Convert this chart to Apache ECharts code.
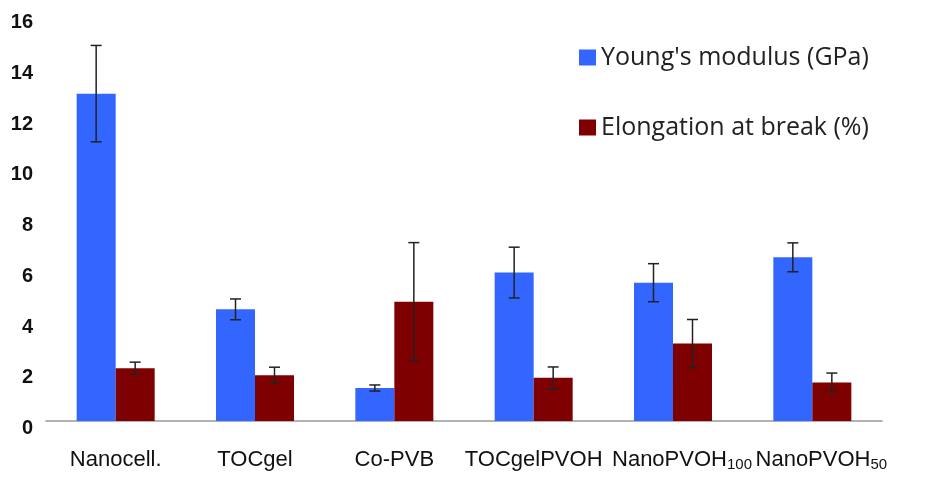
<!DOCTYPE html>
<html>
<head>
<meta charset="utf-8">
<script src="https://cdn.jsdelivr.net/npm/echarts@6/dist/echarts.min.js"></script>
<style>
  html, body { margin: 0; padding: 0; background: #fff; }
  #chart { width: 948px; height: 485px; }
</style>
</head>
<body>
<div id="chart"></div>
<script>
// values
const categories = ['Nanocell.', 'TOCgel', 'Co-PVB', 'TOCgelPVOH', 'NanoPVOH100', 'NanoPVOH50']
const modulus = [12.9, 4.4, 1.3, 5.85, 5.45, 6.45]
const modulusErr = [1.9, 0.41, 0.12, 1.0, 0.75, 0.57]
const elongation = [2.08, 1.8, 4.7, 1.7, 3.05, 1.52]
const elongationErr = [0.24, 0.32, 2.33, 0.43, 0.95, 0.37]
const yTicks = { min: 0, max: 16, interval: 2 }

const BLUE = '#3366ff'
const RED = '#7f0000'
const BAR_W = 39

function errorSeries(values, errs, shift) {
  return {
    type: 'custom',
    z: 10,
    silent: true,
    data: values.map((v, i) => [i, v + errs[i], v - errs[i]]),
    renderItem(params, api) {
      const hi = api.coord([api.value(0), api.value(1)])
      const lo = api.coord([api.value(0), api.value(2)])
      const x = hi[0] + shift
      const style = { stroke: '#222', lineWidth: 1.5 }
      return {
        type: 'group',
        children: [
          { type: 'line', shape: { x1: x, y1: hi[1], x2: x, y2: lo[1] }, style },
          { type: 'line', shape: { x1: x - 5.5, y1: hi[1], x2: x + 5.5, y2: hi[1] }, style },
          { type: 'line', shape: { x1: x - 5.5, y1: lo[1], x2: x + 5.5, y2: lo[1] }, style },
        ],
      }
    },
  }
}

const chart = echarts.init(document.getElementById('chart'), null, { renderer: 'canvas' })
chart.setOption({
  animation: false,
  grid: { left: 46, right: 66, top: 15, bottom: 64, containLabel: false },
  legend: {
    data: ["Young's modulus (GPa)", 'Elongation at break (%)'],
    orient: 'vertical',
    left: 574,
    top: 40,
    icon: 'rect',
    itemWidth: 17,
    itemHeight: 16,
    itemGap: 45,
    itemTextGap: 7,
    textStyle: { fontFamily: 'Open Sans', fontSize: 25, color: '#222' },
  },
  xAxis: {
    type: 'category',
    data: categories,
    axisLine: { lineStyle: { color: '#999', width: 1.5 } },
    axisTick: { length: 7, lineStyle: { color: '#999', width: 1.5 } },
    axisLabel: {
      interval: 0,
      margin: 26,
      formatter(v) {
        const m = v.match(/^(.*?)(\d+)$/)
        return m ? `{n|${m[1]}}{s|${m[2]}}` : `{m|${v}}`
      },
      rich: {
        m: { fontFamily: 'Liberation Sans', fontSize: 22, lineHeight: 25, color: '#111' },
        n: { fontFamily: 'Liberation Sans', fontSize: 22, lineHeight: 25, color: '#111', padding: [0, 0, 0, 18] },
        s: { fontFamily: 'Liberation Sans', fontSize: 15, lineHeight: 14, verticalAlign: 'bottom', color: '#111' },
      },
    },
  },
  yAxis: {
    type: 'value',
    min: yTicks.min,
    max: yTicks.max,
    interval: yTicks.interval,
    splitLine: { show: false },
    axisLine: { show: false },
    axisTick: { show: false },
    axisLabel: {
      margin: 13,
      fontFamily: 'Liberation Sans',
      fontWeight: 'bold',
      fontSize: 20,
      color: '#111',
      verticalAlign: 'top',
      lineHeight: 15,
    },
  },
  series: [
    {
      name: "Young's modulus (GPa)",
      type: 'bar',
      data: modulus,
      barWidth: BAR_W,
      barGap: '0%',
      itemStyle: { color: BLUE },
    },
    {
      name: 'Elongation at break (%)',
      type: 'bar',
      data: elongation,
      barWidth: BAR_W,
      barGap: '0%',
      itemStyle: { color: RED },
    },
    errorSeries(modulus, modulusErr, -BAR_W / 2),
    errorSeries(elongation, elongationErr, BAR_W / 2),
  ],
})
</script>
</body>
</html>
